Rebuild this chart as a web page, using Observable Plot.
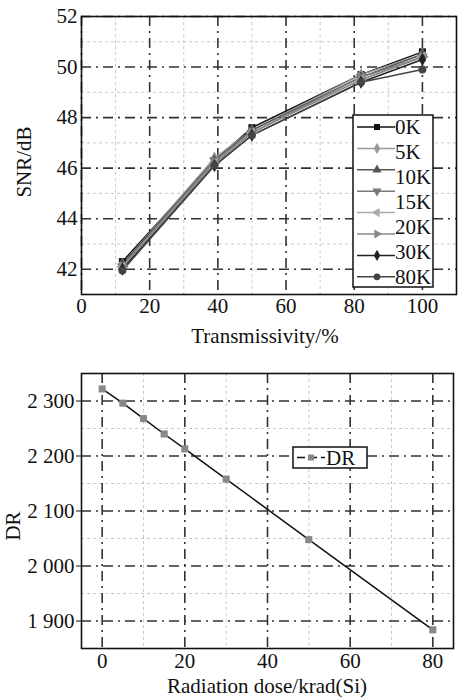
<!DOCTYPE html>
<html>
<head>
<meta charset="utf-8">
<script src="https://cdn.jsdelivr.net/npm/d3@7"></script>
<script src="https://cdn.jsdelivr.net/npm/@observablehq/plot@0.6"></script>
<style>
  body { margin: 0; background: #fff; }
  #wrap { width: 463px; }
  svg { display: block; }
  #wrap svg, #wrap svg text, #wrap svg g { font-family: 'Liberation Serif', 'Times New Roman', serif !important; }
</style>
</head>
<body>
<div id="wrap"></div>
<script>
// ---------- Data: top chart (SNR vs transmissivity) ----------
const transmissivity = [12, 39, 50, 82, 100];
const snr_0K   = [42.3, 46.3, 47.6, 49.7, 50.6];
const snr_5K   = [42.2, 46.4, 47.5, 49.7, 50.5];
const snr_10K  = [42.2, 46.3, 47.5, 49.6, 50.5];
const snr_15K  = [42.1, 46.3, 47.4, 49.6, 50.4];
const snr_20K  = [42.1, 46.2, 47.4, 49.5, 50.4];
const snr_s6   = [42.1, 46.2, 47.4, 49.5, 50.4];
const snr_30K  = [42.0, 46.1, 47.3, 49.4, 50.3];
const snr_80K  = [41.95, 46.1, 47.3, 49.4, 49.9];
const legendLabels = ["0K", "5K", "10K", "15K", "20K", "30K", "80K"];
const xTicksTop = [0, 20, 40, 60, 80, 100];
const xMinorTop = [10, 30, 50, 70, 90];
const yTicksTop = [42, 44, 46, 48, 50, 52];
const yMinorTop = [43, 45, 47, 49, 51];

// ---------- Data: bottom chart (DR vs dose) ----------
const dose = [0, 5, 10, 15, 20, 30, 50, 80];
const drValues = [2322, 2296, 2268, 2240, 2213, 2158, 2048, 1884];
const xTicksBot = [0, 20, 40, 60, 80];
const xMinorBot = [10, 30, 50, 70];
const yTicksBot = [1900, 2000, 2100, 2200, 2300];
const yMinorBot = [1950, 2050, 2150, 2250, 2350];

// ---------- Styles ----------
const FONT = "'Liberation Serif', 'Times New Roman', serif";
const FS = 21;
const seriesStyle = [
  {vals: snr_0K,  color: "#111", symbol: "square",   rotate: 0},
  {vals: snr_5K,  color: "#999", symbol: "diamond",  rotate: 0},
  {vals: snr_10K, color: "#555", symbol: "triangle", rotate: 0},
  {vals: snr_15K, color: "#777", symbol: "triangle", rotate: 180},
  {vals: snr_20K, color: "#aaa", symbol: "triangle", rotate: 270},
  {vals: snr_s6,  color: "#888", symbol: "triangle", rotate: 90},
  {vals: snr_30K, color: "#222", symbol: "diamond",  rotate: 0},
  {vals: snr_80K, color: "#444", symbol: "circle",   rotate: 0}
];
const majorDash = "10,5,2,5";
const minorDash = "3,3";

function gridMarks(xMaj, xMin, yMaj, yMin) {
  return [
    Plot.ruleX(xMin, {stroke: "#c8c8c8", strokeWidth: 1, strokeDasharray: minorDash}),
    Plot.ruleY(yMin, {stroke: "#c8c8c8", strokeWidth: 1, strokeDasharray: minorDash}),
    Plot.ruleX(xMaj, {stroke: "#333", strokeWidth: 1.6, strokeDasharray: majorDash}),
    Plot.ruleY(yMaj, {stroke: "#333", strokeWidth: 1.6, strokeDasharray: majorDash})
  ];
}

// ---------- Top chart ----------
const topRows = seriesStyle.map((s, i) =>
  transmissivity.map((t, j) => ({x: t, y: s.vals[j], s: i})));

const topMarks = [
  ...gridMarks(xTicksTop, xMinorTop, yTicksTop, yMinorTop),
  ...topRows.map((rows, i) => Plot.line(rows, {x: "x", y: "y", stroke: seriesStyle[i].color, strokeWidth: 1.5})),
  ...topRows.map((rows, i) => Plot.dot(rows, {x: "x", y: "y", symbol: seriesStyle[i].symbol, rotate: seriesStyle[i].rotate, fill: seriesStyle[i].color, stroke: "none", r: 4})),
  Plot.frame({stroke: "#111", strokeWidth: 1.6}),
  Plot.axisX({ticks: xTicksTop, tickSize: 0, tickPadding: 4, label: null}),
  Plot.axisY({ticks: yTicksTop, tickSize: 0, tickPadding: 4, label: null})
];

const topPlot = Plot.plot({
  width: 463, height: 350,
  marginLeft: 81, marginRight: 7, marginTop: 16, marginBottom: 56,
  x: {domain: [0, 110]},
  y: {domain: [41, 52]},
  style: {fontFamily: FONT, fontSize: FS + "px", color: "#111", background: "#fff"},
  marks: topMarks
});

// ---------- Bottom chart ----------
const botRows = dose.map((d, i) => ({x: d, y: drValues[i]}));
const botPlot = Plot.plot({
  width: 463, height: 350,
  marginLeft: 81, marginRight: 10, marginTop: 23, marginBottom: 52,
  x: {domain: [-5, 85]},
  y: {domain: [1850, 2350]},
  style: {fontFamily: FONT, fontSize: FS + "px", color: "#111", background: "#fff"},
  marks: [
    ...gridMarks(xTicksBot, xMinorBot, yTicksBot, yMinorBot),
    Plot.line(botRows, {x: "x", y: "y", stroke: "#111", strokeWidth: 1.5}),
    Plot.dot(botRows, {x: "x", y: "y", symbol: "square", fill: "#888", stroke: "none", r: 4}),
    Plot.frame({stroke: "#111", strokeWidth: 1.6}),
    Plot.axisX({ticks: xTicksBot, tickSize: 0, tickPadding: 5, label: null}),
    Plot.axisY({ticks: yTicksBot, tickSize: 5, tickPadding: 2, label: null,
      tickFormat: d => d3.format(",")(d).replace(",", " ")})
  ]
});

const wrap = document.getElementById("wrap");
wrap.appendChild(topPlot);
wrap.appendChild(botPlot);

// ---------- Axis titles and legends (drawn on the Plot SVGs) ----------
function addText(svg, x, y, txt, rot, anchor) {
  const t = d3.select(svg).append("text")
    .attr("font-family", FONT).attr("font-size", FS).attr("fill", "#111")
    .attr("text-anchor", anchor || "middle").text(txt);
  if (rot) t.attr("transform", `translate(${x},${y}) rotate(-90)`);
  else t.attr("x", x).attr("y", y);
  return t;
}
addText(topPlot, 265, 343, "Transmissivity/%");
addText(topPlot, 31, 162, "SNR/dB", true);
addText(botPlot, 267, 343, "Radiation dose/krad(Si)");
addText(botPlot, 20, 176, "DR", true);

// Top legend
{
  const g = d3.select(topPlot).append("g");
  g.append("rect").attr("x", 353).attr("y", 115).attr("width", 80).attr("height", 172)
    .attr("fill", "#fff").attr("stroke", "#111").attr("stroke-width", 1.5);
  seriesStyle.forEach((s, i) => {
    const y = 127 + i * 21.4;
    g.append("line").attr("x1", 357).attr("x2", 395).attr("y1", y).attr("y2", y)
      .attr("stroke", s.color).attr("stroke-width", 1.5);
    const sym = {square: d3.symbolSquare, diamond: d3.symbolDiamond, triangle: d3.symbolTriangle, circle: d3.symbolCircle}[s.symbol];
    g.append("path").attr("d", d3.symbol(sym, 36)())
      .attr("transform", `translate(377,${y}) rotate(${s.rotate})`)
      .attr("fill", s.color);
  });
  legendLabels.forEach((lab, i) => {
    g.append("text").attr("x", 395).attr("y", 127 + i * 25).attr("dy", "0.35em")
      .attr("text-anchor", "start")
      .attr("font-family", FONT).attr("font-size", FS).attr("fill", "#111").text(lab);
  });
}

// Bottom legend
{
  const g = d3.select(botPlot).append("g");
  g.append("rect").attr("x", 293).attr("y", 97).attr("width", 74).attr("height", 21)
    .attr("fill", "#fff").attr("stroke", "#111").attr("stroke-width", 1.5);
  g.append("line").attr("x1", 297).attr("x2", 325).attr("y1", 107.5).attr("y2", 107.5)
    .attr("stroke", "#111").attr("stroke-width", 1.5).attr("stroke-dasharray", "8,4");
  g.append("rect").attr("x", 308).attr("y", 104.5).attr("width", 6).attr("height", 6).attr("fill", "#888");
  g.append("text").attr("x", 326).attr("y", 107.5).attr("dy", "0.35em")
    .attr("text-anchor", "start")
    .attr("font-family", FONT).attr("font-size", FS).attr("fill", "#111").text("DR");
}
</script>
</body>
</html>
